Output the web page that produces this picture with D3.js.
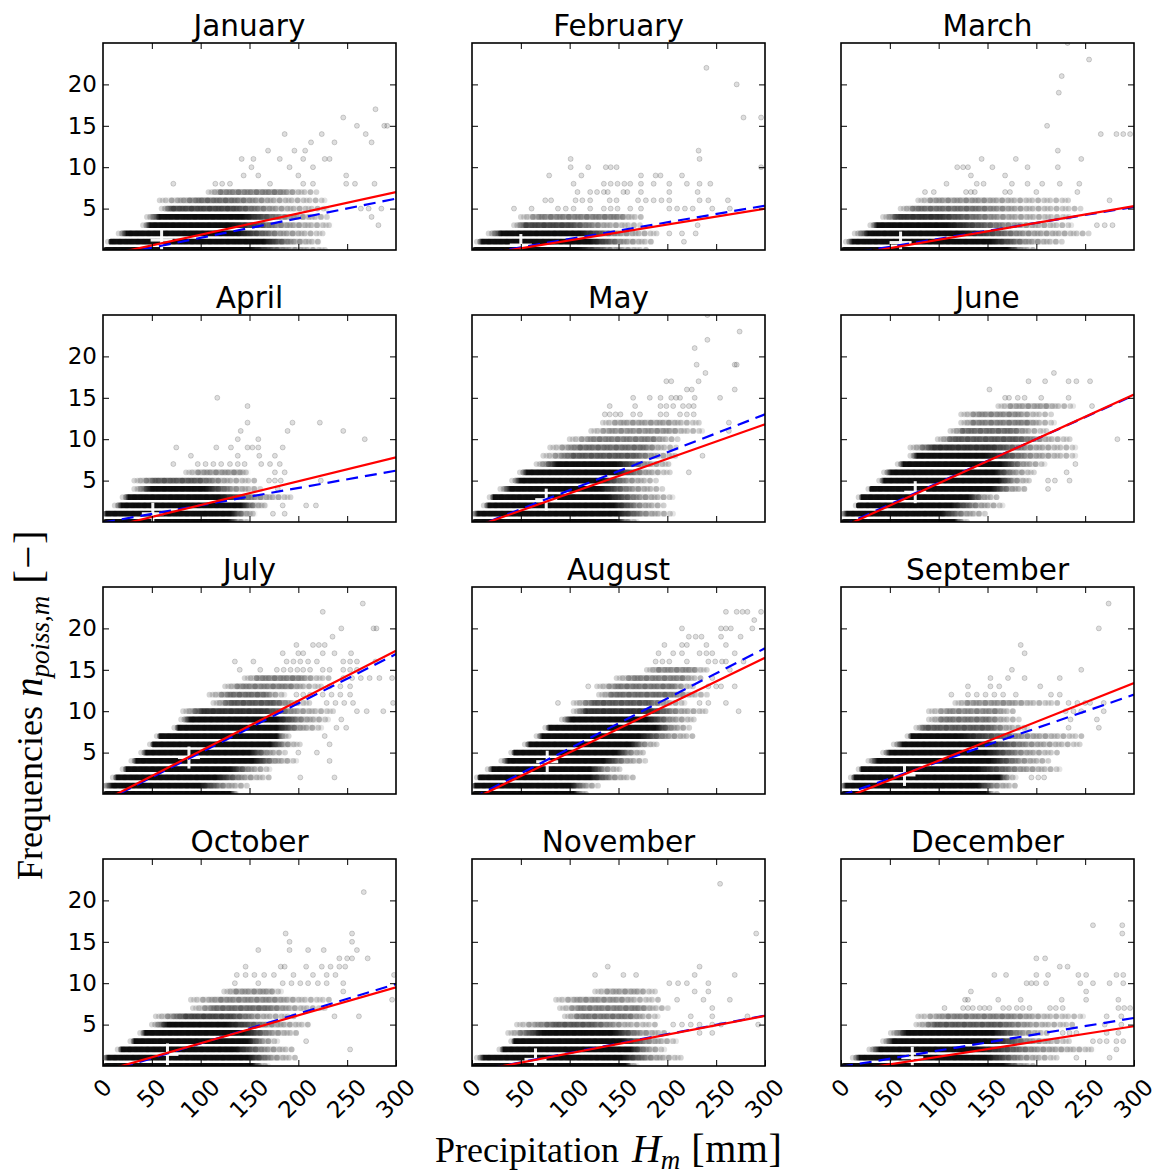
<!DOCTYPE html>
<html>
<head>
<meta charset="utf-8">
<script src="https://cdn.jsdelivr.net/npm/d3@7"></script>
<style>
  body { margin: 0; background: #fff; }
</style>
</head>
<body>
<svg id="chart" width="1159" height="1175"></svg>
<script>
// month names, one per panel
const monthNames = ['January', 'February', 'March', 'April', 'May', 'June',
  'July', 'August', 'September', 'October', 'November', 'December'];

// dense rows of the scatter: [frequency, sparse start, dense start, dense end, sparse end, relative density]
// precipitation in mm
const janBands = [[0, 0, 0, 150, 230, 1], [1, 5, 7, 164, 225, 1], [2, 16, 24, 137, 225, 1], [3, 41, 48, 130, 237, 1],
  [4, 45, 58, 143, 232, 1], [5, 60, 69, 133, 229, 0.7], [6, 58, 99, 130, 230, 0.5], [7, 108, 120, 180, 219, 0.4]];
const febBands = [[0, 0, 0, 108, 180, 1], [1, 5, 10, 121, 188, 1], [2, 17, 30, 110, 190, 1], [3, 43, 54, 99, 175, 0.7],
  [4, 50, 70, 150, 175, 0.4]];
const marBands = [[0, 0, 0, 170, 200, 1], [1, 5, 12, 153, 229, 1], [2, 14, 28, 121, 255, 1], [3, 30, 37, 108, 237, 1],
  [4, 43, 59, 99, 237, 0.8], [5, 61, 77, 135, 246, 0.5], [6, 79, 95, 140, 237, 0.3]];
const aprBands = [[0, 0, 0, 128, 150, 1], [1, 0, 3, 131, 159, 1], [2, 12, 19, 141, 170, 1], [3, 20, 26, 119, 193, 1],
  [4, 32, 49, 104, 162, 1], [5, 32, 53, 97, 159, 0.6], [6, 85, 100, 140, 152, 0.3]];
const mayBands = [[0, 0, 0, 148, 170, 1], [1, 0, 6, 148, 206, 1], [2, 12, 17, 145, 199, 1], [3, 18, 22, 138, 206, 1],
  [4, 29, 39, 131, 196, 1], [5, 41, 49, 131, 189, 1], [6, 49, 56, 145, 203, 1], [7, 66, 87, 148, 206, 1],
  [8, 73, 104, 165, 213, 0.6], [9, 80, 110, 175, 210, 0.5], [10, 100, 125, 185, 213, 0.4],
  [11, 122, 140, 200, 237, 0.3], [12, 134, 150, 200, 237, 0.25]];
const junBands = [[0, 0, 0, 116, 130, 1], [1, 0, 6, 102, 150, 1], [2, 15, 16, 113, 167, 1], [3, 18, 21, 130, 161, 1],
  [4, 28, 30, 154, 192, 1], [5, 39, 44, 161, 195, 1], [6, 44, 51, 157, 198, 1], [7, 58, 64, 164, 209, 1],
  [8, 71, 78, 147, 240, 1], [9, 71, 95, 154, 240, 0.8], [10, 99, 115, 180, 236, 0.6], [11, 112, 125, 175, 212, 0.5],
  [12, 123, 135, 190, 219, 0.4], [13, 123, 140, 180, 216, 0.35], [14, 161, 175, 210, 238, 0.25]];
const julBands = [[0, 0, 0, 130, 140, 1], [1, 0, 9, 99, 150, 1], [2, 10, 14, 116, 171, 1], [3, 20, 24, 130, 171, 1],
  [4, 29, 34, 154, 198, 1], [5, 39, 44, 150, 188, 1], [6, 48, 51, 171, 202, 1], [7, 55, 58, 178, 191, 1],
  [8, 73, 77, 178, 225, 1], [9, 80, 89, 178, 232, 1], [10, 82, 102, 164, 236, 0.8], [11, 113, 130, 175, 212, 0.6],
  [12, 109, 130, 165, 188, 0.5], [13, 125, 140, 190, 225, 0.4], [14, 145, 160, 200, 232, 0.4]];
const augBands = [[0, 0, 0, 104, 120, 1], [1, 0, 3, 101, 130, 1], [2, 5, 7, 121, 166, 1], [3, 16, 21, 121, 153, 1],
  [4, 30, 37, 135, 179, 1], [5, 40, 43, 148, 179, 1], [6, 54, 59, 162, 191, 1], [7, 66, 72, 171, 229, 1],
  [8, 75, 79, 188, 224, 1], [9, 92, 101, 179, 229, 1], [10, 104, 117, 184, 242, 0.8], [11, 104, 125, 180, 220, 0.6],
  [12, 130, 145, 200, 242, 0.5], [13, 128, 150, 205, 229, 0.45], [14, 148, 165, 215, 237, 0.4],
  [15, 179, 190, 225, 242, 0.35]];
const sepBands = [[0, 0, 0, 148, 160, 1], [1, 0, 5, 139, 179, 1], [2, 10, 14, 162, 179, 1], [3, 18, 21, 139, 224, 1],
  [4, 28, 37, 153, 215, 1], [5, 43, 50, 148, 222, 1], [6, 54, 63, 139, 246, 1], [7, 68, 72, 121, 248, 1],
  [8, 77, 85, 150, 193, 0.6], [9, 90, 105, 150, 184, 0.45], [10, 90, 110, 160, 179, 0.35], [11, 117, 130, 170, 224, 0.3]];
const octBands = [[0, 0, 0, 153, 170, 1], [1, 0, 5, 148, 197, 1], [2, 15, 19, 135, 197, 1], [3, 28, 32, 148, 179, 1],
  [4, 38, 43, 144, 202, 1], [5, 50, 66, 126, 215, 1], [6, 54, 85, 130, 197, 0.7], [7, 92, 115, 165, 229, 0.5],
  [8, 90, 120, 170, 233, 0.35], [9, 124, 135, 170, 184, 0.3]];
const novBands = [[0, 0, 0, 157, 170, 1], [1, 5, 12, 153, 215, 1], [2, 28, 32, 162, 197, 1], [3, 40, 43, 153, 210, 1],
  [4, 37, 72, 144, 202, 1], [5, 46, 86, 121, 193, 0.6], [6, 95, 110, 160, 193, 0.45], [7, 90, 110, 170, 202, 0.4],
  [8, 86, 110, 150, 193, 0.3], [9, 126, 140, 170, 188, 0.25]];
const decBands = [[0, 0, 0, 166, 200, 1], [1, 12, 19, 149, 221, 1], [2, 29, 39, 139, 262, 1], [3, 43, 53, 152, 234, 1],
  [4, 51, 67, 156, 214, 1], [5, 77, 97, 160, 241, 0.6], [6, 79, 110, 170, 248, 0.4]];

// single scattered months: [precipitation mm, frequency]
const janDots = [[282, 3], [275, 4], [264, 5], [272, 5], [285, 5],
  [72, 8], [115, 8], [122, 8], [130, 8], [171, 8], [205, 8], [215, 8], [249, 8], [258, 8], [278, 8],
  [144, 9], [159, 9], [200, 9], [249, 9], [152, 10], [191, 10], [215, 10],
  [142, 11], [154, 11], [181, 11], [205, 11], [227, 11], [232, 11], [169, 12], [196, 12], [207, 12],
  [213, 13], [237, 13], [275, 13], [186, 14], [224, 14], [269, 14], [260, 15], [288, 15], [291, 15],
  [246, 16], [279, 17]];
const febDots = [[217, 1], [202, 2], [215, 2], [229, 2], [231, 3],
  [43, 5], [61, 5], [88, 5], [96, 5], [104, 5], [121, 5], [135, 5], [142, 5], [149, 5], [162, 5], [173, 5], [202, 5],
  [210, 5], [218, 5], [226, 5], [246, 5], [264, 5],
  [75, 6], [81, 6], [106, 6], [113, 6], [121, 6], [141, 6], [148, 6], [170, 6], [178, 6], [186, 6], [194, 6], [202, 6],
  [233, 6], [242, 6], [262, 6],
  [108, 7], [121, 7], [128, 7], [135, 7], [139, 7], [155, 7], [159, 7], [173, 7], [202, 7], [231, 7],
  [104, 8], [135, 8], [142, 8], [149, 8], [156, 8], [162, 8], [173, 8], [186, 8], [202, 8], [220, 8], [233, 8], [244, 8],
  [79, 9], [112, 9], [173, 9], [188, 9], [193, 9], [215, 9], [101, 10], [119, 10], [137, 10], [142, 10], [148, 10],
  [296, 10], [101, 11], [233, 11], [232, 12], [278, 16], [296, 16], [271, 20], [240, 22]];
const marDots = [[262, 3], [270, 3], [278, 3], [275, 6],
  [86, 7], [95, 7], [128, 7], [133, 7], [137, 7], [168, 7], [173, 7], [200, 7], [242, 7],
  [108, 8], [139, 8], [146, 8], [175, 8], [191, 8], [206, 8], [224, 8], [244, 8], [133, 9], [168, 9],
  [119, 10], [125, 10], [130, 10], [155, 10], [191, 10], [222, 10], [144, 11], [179, 11], [246, 11], [222, 12],
  [266, 14], [282, 14], [289, 14], [296, 14], [211, 15], [223, 19], [226, 21], [254, 23], [232, 25]];
const aprDots = [[174, 1], [186, 1], [184, 2], [208, 2], [218, 2], [179, 4],
  [170, 5], [176, 5], [182, 5], [223, 5], [176, 6], [186, 6],
  [72, 7], [97, 7], [105, 7], [113, 7], [121, 7], [130, 7], [138, 7], [145, 7], [162, 7], [171, 7], [181, 7],
  [90, 8], [138, 8], [160, 8], [176, 8], [75, 9], [116, 9], [131, 9], [148, 9], [153, 9], [159, 9], [184, 9],
  [138, 10], [159, 10], [268, 10], [141, 11], [189, 11], [246, 11], [148, 12], [194, 12], [222, 12],
  [148, 14], [117, 15]];
const mayDots = [[222, 6], [236, 8], [263, 11], [263, 12],
  [136, 13], [141, 13], [147, 13], [152, 13], [165, 13], [172, 13], [193, 13], [199, 13], [213, 13], [220, 13], [227, 13],
  [141, 14], [167, 14], [193, 14], [199, 14], [206, 14], [216, 14], [222, 14], [227, 14],
  [165, 15], [182, 15], [193, 15], [204, 15], [209, 15], [213, 15], [228, 15], [254, 15],
  [220, 16], [225, 16], [269, 16], [199, 17], [204, 17], [232, 17], [239, 18], [230, 19], [269, 19], [271, 19],
  [228, 21], [241, 22], [274, 23], [241, 25]];
const junDots = [[212, 4], [212, 5], [219, 5], [234, 5], [231, 6], [240, 7], [283, 10], [257, 14],
  [168, 15], [172, 15], [181, 15], [188, 15], [205, 15], [233, 15], [152, 16],
  [192, 17], [209, 17], [233, 17], [241, 17], [255, 17], [218, 18]];
const julDots = [[202, 2], [237, 2], [232, 4], [200, 5], [219, 5], [232, 6], [227, 7], [239, 8], [249, 8], [244, 9],
  [260, 10], [270, 10], [287, 10], [229, 11], [238, 11], [247, 11], [256, 11], [297, 11],
  [198, 12], [205, 12], [212, 12], [225, 12], [234, 12], [243, 12], [253, 12], [232, 13], [243, 13], [253, 13],
  [246, 14], [255, 14], [264, 14], [273, 14], [283, 14], [296, 14],
  [140, 15], [161, 15], [178, 15], [185, 15], [192, 15], [199, 15], [205, 15], [212, 15], [225, 15], [232, 15],
  [246, 15], [253, 15], [260, 15],
  [135, 16], [154, 16], [188, 16], [195, 16], [202, 16], [210, 16], [219, 16], [246, 16], [253, 16], [260, 16], [279, 16],
  [184, 17], [200, 17], [205, 17], [225, 17], [237, 17], [254, 17], [198, 18], [215, 18], [221, 18], [227, 18],
  [235, 19], [244, 20], [277, 20], [280, 20], [225, 22], [266, 23]];
const augDots = [[273, 10], [88, 11], [233, 11], [242, 11], [260, 11], [119, 13], [242, 13], [250, 13], [255, 13],
  [269, 13], [246, 14], [264, 15],
  [188, 16], [195, 16], [202, 16], [220, 16], [242, 16], [249, 16], [256, 16], [260, 16], [278, 16],
  [191, 17], [206, 17], [215, 17], [233, 17], [240, 17], [246, 17], [269, 17],
  [197, 18], [215, 18], [220, 18], [240, 18], [260, 18], [222, 19], [229, 19], [235, 19], [255, 19], [275, 19],
  [215, 20], [255, 20], [260, 20], [265, 20], [287, 20], [289, 21],
  [260, 22], [271, 22], [277, 22], [282, 22], [296, 22]];
const sepDots = [[195, 2], [202, 2], [208, 2], [233, 8], [264, 8], [235, 9], [262, 9],
  [230, 10], [238, 10], [246, 10], [269, 10], [233, 11], [242, 11], [250, 11], [255, 11], [269, 11],
  [113, 12], [130, 12], [139, 12], [148, 12], [157, 12], [166, 12], [179, 12], [215, 12], [224, 12],
  [130, 13], [153, 13], [162, 13], [204, 13], [153, 14], [171, 14], [188, 14], [224, 14], [175, 15], [246, 15],
  [188, 17], [184, 18], [264, 20], [274, 23]];
const octDots = [[253, 2], [208, 3], [237, 6], [262, 6], [296, 8], [246, 9],
  [135, 10], [159, 10], [184, 10], [193, 10], [202, 10], [210, 10], [220, 10], [229, 10], [246, 10],
  [137, 11], [146, 11], [155, 11], [165, 11], [175, 11], [195, 11], [215, 11], [229, 11], [238, 11], [298, 11],
  [146, 12], [182, 12], [186, 12], [208, 12], [224, 12], [233, 12], [242, 12], [248, 12],
  [242, 13], [250, 13], [255, 13], [271, 13], [159, 14], [191, 14], [210, 14], [226, 14], [260, 14],
  [191, 15], [255, 15], [187, 16], [255, 16], [267, 21]];
const novDots = [[233, 4], [246, 4], [206, 5], [215, 5], [224, 5], [233, 5], [246, 5], [255, 5], [293, 5],
  [224, 6], [246, 6], [282, 6], [246, 7], [210, 8], [237, 8], [264, 8], [228, 9], [242, 9],
  [202, 10], [211, 10], [220, 10], [242, 10], [126, 11], [155, 11], [168, 11], [228, 11], [269, 11],
  [139, 12], [233, 12], [291, 16], [254, 22]];
const decDots = [[241, 1], [275, 1], [282, 2], [258, 3], [265, 3], [272, 3], [282, 3], [289, 3],
  [227, 4], [234, 4], [241, 4], [272, 4], [284, 4], [270, 5], [287, 5], [272, 6], [287, 6],
  [106, 7], [125, 7], [130, 7], [135, 7], [142, 7], [147, 7], [152, 7], [166, 7], [172, 7], [180, 7], [186, 7],
  [193, 7], [214, 7], [220, 7], [227, 7], [284, 7], [290, 7], [296, 7],
  [127, 8], [130, 8], [161, 8], [184, 8], [226, 8], [251, 8], [284, 8], [133, 9], [251, 9],
  [190, 10], [195, 10], [200, 10], [210, 10], [245, 10], [258, 10], [275, 10], [289, 10],
  [157, 11], [169, 11], [200, 11], [212, 11], [243, 11], [251, 11], [282, 11], [289, 11],
  [224, 12], [232, 12], [200, 13], [209, 13], [288, 16], [258, 17], [288, 17]];

// fitted lines: frequency at 0 mm and at 300 mm
const redFit = [[-0.73, 7.0], [-0.75, 5.0], [-0.79, 5.3], [-0.83, 7.8], [-0.71, 11.8], [-0.70, 15.4],
  [-0.85, 17.3], [-0.69, 16.45], [-0.66, 13.4], [-0.64, 9.5], [-0.72, 6.05], [-0.72, 4.8]];
const blueFit = [[-0.9, 6.2], [-0.68, 5.35], [-0.58, 5.2], [-0.07, 6.2], [-0.73, 13.0], [-0.53, 15.3],
  [-0.95, 16.9], [-0.54, 17.6], [-0.16, 12.0], [-0.86, 9.9], [-0.68, 6.1], [-0.1, 5.8]];
// mean of each month: [mm, frequency]
const meanPoint = [[60, 1.2], [50, 0.6], [61, 0.9], [51, 1.0], [76, 2.7], [76, 3.6],
  [88, 4.4], [77, 3.9], [65, 2.3], [66, 1.4], [65, 0.8], [73, 1.0]];

const xTicks = [0, 50, 100, 150, 200, 250, 300];
const xInner = [50, 100, 150, 200, 250];
const yTicks = [5, 10, 15, 20];

const bandSets = [janBands, febBands, marBands, aprBands, mayBands, junBands,
  julBands, augBands, sepBands, octBands, novBands, decBands];
const dotSets = [janDots, febDots, marDots, aprDots, mayDots, junDots,
  julDots, augDots, sepDots, octDots, novDots, decDots];

const svg = d3.select('#chart');
const defs = svg.append('defs');

const colLeft = [103, 472, 841];
const rowTop = [43, 315, 587, 859];
const panelW = 293;
const panelH = 207;
const dotR = 2.9;
const sansFont = "'DejaVu Sans', sans-serif";
const serifFont = "'Liberation Serif', 'Times New Roman', serif";

const x = d3.scaleLinear().domain([0, 300]).range([0, panelW]);
const y = d3.scaleLinear().domain([0, 25]).range([panelH, 0]);

monthNames.forEach((name, i) => {
  const col = i % 3;
  const row = Math.floor(i / 3);
  const g = svg.append('g').attr('transform', `translate(${colLeft[col]},${rowTop[row]})`);

  defs.append('clipPath').attr('id', `clip${i}`)
    .append('rect').attr('width', panelW).attr('height', panelH);
  const plot = g.append('g').attr('clip-path', `url(#clip${i})`);

  // dense rows: faint ringed dots plus a fading dark core
  bandSets[i].forEach((b, j) => {
    const [v, x0, x1, x2, x3, w] = b;
    const yy = y(v);
    plot.append('line')
      .attr('x1', x(x0)).attr('x2', x(x3))
      .attr('y1', yy).attr('y2', yy)
      .attr('stroke', '#000')
      .attr('stroke-opacity', 0.17)
      .attr('stroke-width', dotR * 2)
      .attr('stroke-linecap', 'round')
      .attr('stroke-dasharray', '0 6');
    plot.append('line')
      .attr('x1', x(x0) + 3).attr('x2', x(x3))
      .attr('y1', yy).attr('y2', yy)
      .attr('stroke', '#000')
      .attr('stroke-opacity', 0.1)
      .attr('stroke-width', dotR * 2)
      .attr('stroke-linecap', 'round')
      .attr('stroke-dasharray', '0 9');

    const span = x(x3) - x(x0);
    const off = d => (x(d) - x(x0)) / span;
    const id = `band${i}_${j}`;
    const grad = defs.append('linearGradient')
      .attr('id', id)
      .attr('gradientUnits', 'userSpaceOnUse')
      .attr('x1', x(x0)).attr('x2', x(x3))
      .attr('y1', 0).attr('y2', 0);
    [[x0, 0], [x1, w], [x2, w], [(x2 + x3) / 2, w * 0.3], [x3, 0]].forEach(([d, o]) => {
      grad.append('stop')
        .attr('offset', off(d))
        .attr('stop-color', '#000')
        .attr('stop-opacity', o * 0.93);
    });
    plot.append('rect')
      .attr('x', x(x0)).attr('width', span)
      .attr('y', yy - dotR).attr('height', dotR * 2)
      .attr('rx', dotR)
      .attr('fill', `url(#${id})`);
  });

  // scattered points
  plot.selectAll('.dot')
    .data(dotSets[i])
    .enter()
    .append('circle')
    .attr('class', 'dot')
    .attr('cx', d => x(d[0]))
    .attr('cy', d => y(d[1]))
    .attr('r', dotR - 0.4)
    .attr('fill', '#000')
    .attr('fill-opacity', 0.13)
    .attr('stroke', '#000')
    .attr('stroke-opacity', 0.16)
    .attr('stroke-width', 1);

  // mean marker
  const [mx, my] = meanPoint[i];
  const cross = plot.append('g').attr('stroke', '#fff').attr('stroke-opacity', 0.95).attr('stroke-width', 3);
  cross.append('line').attr('x1', x(mx) - 11).attr('x2', x(mx) + 11).attr('y1', y(my)).attr('y2', y(my));
  cross.append('line').attr('x1', x(mx)).attr('x2', x(mx)).attr('y1', y(my) - 11).attr('y2', y(my) + 11);

  // fitted lines
  plot.append('line')
    .attr('x1', x(0)).attr('x2', x(300))
    .attr('y1', y(blueFit[i][0])).attr('y2', y(blueFit[i][1]))
    .attr('stroke', '#0000ff')
    .attr('stroke-width', 2.2)
    .attr('stroke-dasharray', '12 7');
  plot.append('line')
    .attr('x1', x(0)).attr('x2', x(300))
    .attr('y1', y(redFit[i][0])).attr('y2', y(redFit[i][1]))
    .attr('stroke', '#ff0000')
    .attr('stroke-width', 2.2);

  // axes with inward ticks on all sides
  const styleAxis = sel => {
    sel.attr('font-family', sansFont).attr('font-size', 23);
    sel.select('.domain').remove();
    sel.selectAll('.tick line').attr('stroke-width', 1);
  };
  g.append('g')
    .call(d3.axisLeft(y).tickValues(yTicks).tickSize(-6).tickPadding(6)
      .tickFormat(col === 0 ? d3.format('d') : ''))
    .call(styleAxis);
  g.append('g')
    .attr('transform', `translate(${panelW},0)`)
    .call(d3.axisRight(y).tickValues(yTicks).tickSize(-6).tickFormat(''))
    .call(styleAxis);
  g.append('g')
    .call(d3.axisTop(x).tickValues(xInner).tickSize(-6).tickFormat(''))
    .call(styleAxis);
  const bottom = g.append('g')
    .attr('transform', `translate(0,${panelH})`)
    .call(d3.axisBottom(x).tickValues(row === 3 ? xTicks : xInner).tickSize(-6)
      .tickFormat(row === 3 ? d3.format('d') : ''))
    .call(styleAxis);

  if (row === 3) {
    bottom.selectAll('.tick text').each(function () {
      const t = d3.select(this);
      const w = this.getComputedTextLength();
      const cy = 11 + (w + 17) / (2 * Math.SQRT2);
      t.attr('y', null).attr('dy', null)
        .attr('text-anchor', 'middle')
        .attr('dominant-baseline', 'central')
        .attr('transform', `translate(-1,${cy}) rotate(-45)`);
    });
  }

  g.append('rect')
    .attr('width', panelW).attr('height', panelH)
    .attr('fill', 'none')
    .attr('stroke', '#000')
    .attr('stroke-width', 1.6);

  g.append('text')
    .attr('x', panelW / 2).attr('y', -7)
    .attr('text-anchor', 'middle')
    .attr('font-family', sansFont)
    .attr('font-size', 29.5)
    .text(name);
});

// axis titles
const yLabel = svg.append('text')
  .attr('transform', 'translate(42,880) rotate(-90)')
  .attr('text-anchor', 'start')
  .attr('font-family', serifFont)
  .attr('font-size', 36);
yLabel.append('tspan').text('Frequencies ');
yLabel.append('tspan').attr('font-style', 'italic').attr('font-size', 39).text('n');
yLabel.append('tspan').attr('font-style', 'italic').attr('font-size', 27).attr('dy', 7).text('poiss,m');
yLabel.append('tspan').attr('dy', -7).attr('dx', 12).attr('font-size', 41).attr('letter-spacing', 1.5).text('[\u2212]');

const xLabel = svg.append('text')
  .attr('x', 435).attr('y', 1162)
  .attr('text-anchor', 'start')
  .attr('font-family', serifFont)
  .attr('font-size', 36);
xLabel.append('tspan').text('Precipitation ');
xLabel.append('tspan').attr('font-style', 'italic').attr('font-size', 40).attr('dx', 4).text('H');
xLabel.append('tspan').attr('font-style', 'italic').attr('font-size', 27).attr('dy', 7).text('m');
xLabel.append('tspan').attr('dy', -7).attr('dx', 11).attr('font-size', 40).attr('letter-spacing', 0.5).text('[mm]');
</script>
</body>
</html>
